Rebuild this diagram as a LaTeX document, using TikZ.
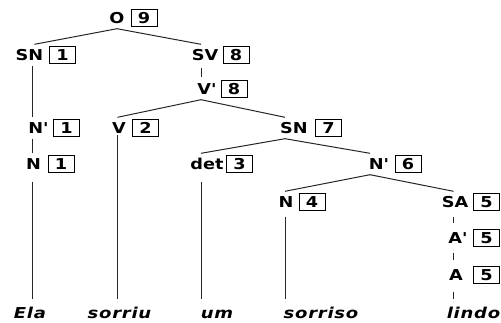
\documentclass[tikz,border=0pt]{standalone}
\usepackage{fontspec}
\setmainfont{DejaVu Sans}[Ligatures=TeXOff, FakeStretch=1.18]
\newfontfamily\wordfont{DejaVu Sans}[Ligatures=TeXOff, FakeStretch=1.2, LetterSpace=5]
\begin{document}
\begin{tikzpicture}[x=1pt,y=-1pt,
  cat/.style={font=\fontsize{15}{18}\selectfont\bfseries, inner xsep=0pt, inner ysep=5pt, text height=11pt, text depth=0pt},
  num/.style={draw, line width=1pt, font=\fontsize{15}{18}\selectfont\bfseries, minimum width=26pt, minimum height=17pt, inner sep=0pt},
  word/.style={font=\fontsize{15}{18}\selectfont\wordfont\bfseries\itshape, inner xsep=0pt, inner ysep=8pt, text height=11pt, text depth=0pt, anchor=base},
  branch/.style={draw=black!85, line width=1pt}
]
\useasboundingbox (0,0) rectangle (501,322);
% category labels
\node[cat] (o)   at (117,18)  {O};
\node[cat] (sn)  at (29.5,55) {SN};
\node[cat] (sv)  at (205,55)  {SV};
\node[cat] (vb)  at (207,89)  {V'};
\node[cat] (nb1) at (38.5,128){N'};
\node[cat] (v)   at (119,128) {V};
\node[cat] (sn7) at (294,128) {SN};
\node[cat] (n1)  at (33.5,164){N};
\node[cat] (det) at (207,164) {det};
\node[cat] (nb6) at (379,164) {N'};
\node[cat] (n4)  at (286,202) {N};
\node[cat] (sa)  at (455,202) {SA};
\node[cat] (ab)  at (458,238) {A'};
\node[cat] (a)   at (456,275) {A};
% index boxes
\node[num] (b9)  at (144,18)    {9};
\node[num] (b1a) at (62.5,55)   {1};
\node[num] (b8a) at (236,55)    {8};
\node[num] (b8b) at (234,89)    {8};
\node[num] (b1b) at (66.5,128)  {1};
\node[num] (b2)  at (145.5,128) {2};
\node[num] (b7)  at (328.5,128) {7};
\node[num] (b1c) at (61,164)    {1};
\node[num] (b3)  at (239.5,164) {3};
\node[num] (b6)  at (408,164)   {6};
\node[num] (b4)  at (312,202)   {4};
\node[num] (b5a) at (486.5,202) {5};
\node[num] (b5b) at (486.5,238) {5};
\node[num] (b5c) at (486.5,275) {5};
% words
\node[word] (ela)     at (30,318)    {Ela};
\node[word] (sorriu)  at (119.5,318) {sorriu};
\node[word] (um)      at (217,318)   {um};
\node[word] (sorriso) at (321,318)   {sorriso};
\node[word] (lindo)   at (473.5,318) {lindo};
% branches
\draw[branch] (o.south) -- ([xshift=5]sn.north);
\draw[branch] (o.south) -- ([xshift=-4]sv.north);
\draw[branch] ([xshift=2.5]sn.south) -- ([xshift=-6.5]nb1.north);
\draw[branch] ([xshift=-6.5]nb1.south) -- ([xshift=-1.5]n1.north);
\draw[branch, shorten <=2pt, shorten >=1pt] ([xshift=-4]sv.south) -- ([xshift=-6]vb.north);
\draw[branch] ([xshift=-6]vb.south) -- ([xshift=-1.5]v.north);
\draw[branch] ([xshift=-6]vb.south) -- ([xshift=-9]sn7.north);
\draw[branch] ([xshift=-9]sn7.south) -- ([xshift=-6]det.north);
\draw[branch] ([xshift=-9]sn7.south) -- ([xshift=-9]nb6.north);
\draw[branch] ([xshift=-9]nb6.south) -- ([xshift=-1]n4.north);
\draw[branch] ([xshift=-9]nb6.south) -- ([xshift=-1.5]sa.north);
\draw[branch, shorten <=4pt, shorten >=4pt] ([xshift=-1.5]sa.south) -- ([xshift=-4.5]ab.north);
\draw[branch, shorten <=4pt, shorten >=4pt] ([xshift=-4.5]ab.south) -- ([xshift=-2.5]a.north);
% leaves
\coordinate (n1b) at ([xshift=-1.5]n1.south);
\coordinate (vbt) at ([xshift=-1.5]v.south);
\coordinate (detb) at ([xshift=-6]det.south);
\coordinate (n4b) at ([xshift=-1]n4.south);
\coordinate (ab2) at ([xshift=-2.5]a.south);
\draw[branch, shorten <=7pt] (n1b) -- (n1b |- ela.north);
\draw[branch, shorten <=-4pt] (vbt) -- (vbt |- sorriu.north);
\draw[branch, shorten <=7pt] (detb) -- (detb |- um.north);
\draw[branch, shorten <=4pt] (n4b) -- (n4b |- sorriso.north);
\draw[branch, shorten <=6pt] (ab2) -- (ab2 |- lindo.north);
\end{tikzpicture}
\end{document}
